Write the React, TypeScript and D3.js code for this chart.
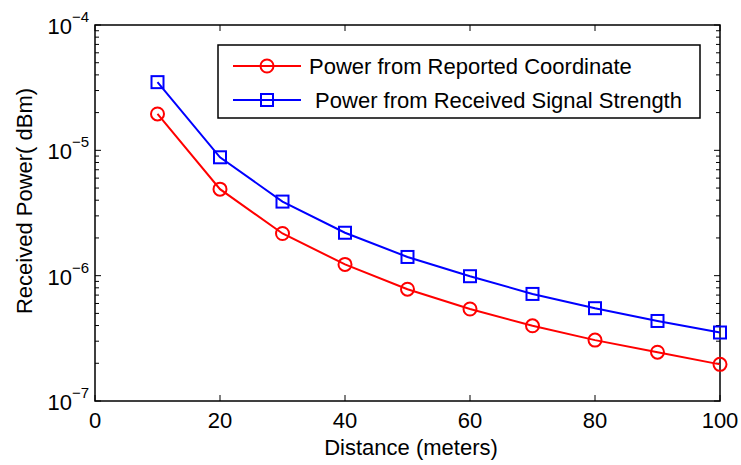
import React from "react";
import * as d3 from "d3";

const distances = [10, 20, 30, 40, 50, 60, 70, 80, 90, 100];
const reportedPower = [1.95e-5, 4.9e-6, 2.17e-6, 1.23e-6, 7.8e-7, 5.42e-7, 3.98e-7, 3.06e-7, 2.45e-7, 1.96e-7];
const rssPower = [3.5e-5, 8.8e-6, 3.9e-6, 2.2e-6, 1.41e-6, 9.9e-7, 7.15e-7, 5.5e-7, 4.35e-7, 3.52e-7];
const xTicks = [0, 20, 40, 60, 80, 100];
const yExponents = [-4, -5, -6, -7];
const seriesNames = ["Power from Reported Coordinate", " Power from Received Signal Strength"];

const W = 741, H = 465;
const m = { left: 95, right: 21, top: 25, bottom: 64 };
const font = "'Liberation Sans', Arial, Helvetica, sans-serif";

export default function App() {
  const x = d3.scaleLinear().domain([0, 100]).range([m.left, W - m.right]);
  const y = d3.scaleLog().domain([1e-7, 1e-4]).range([H - m.bottom, m.top]);
  const line = d3.line<[number, number]>().x(d => x(d[0])).y(d => y(d[1]));
  const red = distances.map((d, i) => [d, reportedPower[i]] as [number, number]);
  const blue = distances.map((d, i) => [d, rssPower[i]] as [number, number]);
  const x0 = m.left, x1 = W - m.right, y0 = H - m.bottom, y1 = m.top;
  const minor: number[] = [];
  for (let e = -7; e < -4; e++) for (let k = 2; k <= 9; k++) minor.push(k * Math.pow(10, e));
  const maj = 6, mn = 4;
  return (
    <svg width={W} height={H} style={{ position: "absolute", left: 0, top: 0, background: "#fff" }} fontFamily={font}>
      <rect x={0} y={0} width={W} height={H} fill="#fff" />
      {/* ticks */}
      {xTicks.map(t => (
        <g key={"x" + t} stroke="#000" strokeWidth={1}>
          <line x1={x(t)} x2={x(t)} y1={y0} y2={y0 - maj} />
          <line x1={x(t)} x2={x(t)} y1={y1} y2={y1 + maj} />
        </g>
      ))}
      {yExponents.map(e => (
        <g key={"y" + e} stroke="#000" strokeWidth={1}>
          <line x1={x0} x2={x0 + maj} y1={y(Math.pow(10, e))} y2={y(Math.pow(10, e))} />
          <line x1={x1} x2={x1 - maj} y1={y(Math.pow(10, e))} y2={y(Math.pow(10, e))} />
        </g>
      ))}
      {minor.map((v, i) => (
        <g key={"m" + i} stroke="#000" strokeWidth={1}>
          <line x1={x0} x2={x0 + mn} y1={y(v)} y2={y(v)} />
          <line x1={x1} x2={x1 - mn} y1={y(v)} y2={y(v)} />
        </g>
      ))}
      {/* frame */}
      <rect x={x0} y={y1} width={x1 - x0} height={y0 - y1} fill="none" stroke="#000" strokeWidth={1.5} />
      {/* tick labels */}
      {xTicks.map(t => (
        <text key={"xl" + t} x={x(t)} y={y0 + 27} textAnchor="middle" fontSize={22} fill="#000">{t}</text>
      ))}
      {yExponents.map(e => (
        <text key={"yl" + e} x={89} y={y(Math.pow(10, e)) + 9} textAnchor="end" fontSize={22} fill="#000">
          10<tspan dy={-12} fontSize={15}>{"\u2212" + Math.abs(e)}</tspan>
        </text>
      ))}
      {/* axis labels */}
      <text x={411} y={455} textAnchor="middle" fontSize={22} fill="#000">Distance (meters)</text>
      <text transform={`translate(32,201) rotate(-90)`} textAnchor="middle" fontSize={22} fill="#000">Received Power( dBm)</text>
      {/* series */}
      <path d={line(red) || ""} fill="none" stroke="#ff0000" strokeWidth={2} />
      <path d={line(blue) || ""} fill="none" stroke="#0000ff" strokeWidth={2} />
      {red.map((d, i) => (
        <circle key={"r" + i} cx={x(d[0])} cy={y(d[1])} r={6.5} fill="none" stroke="#ff0000" strokeWidth={2} />
      ))}
      {blue.map((d, i) => (
        <rect key={"b" + i} x={x(d[0]) - 6} y={y(d[1]) - 6} width={12} height={12} fill="none" stroke="#0000ff" strokeWidth={2} />
      ))}
      {/* legend */}
      <rect x={218} y={45} width={482} height={73} fill="#fff" stroke="#000" strokeWidth={1.5} />
      <line x1={233} x2={301} y1={66} y2={66} stroke="#ff0000" strokeWidth={2} />
      <circle cx={267} cy={66} r={6.5} fill="none" stroke="#ff0000" strokeWidth={2} />
      <text x={309} y={74} fontSize={22} fill="#000">{seriesNames[0]}</text>
      <line x1={233} x2={301} y1={100} y2={100} stroke="#0000ff" strokeWidth={2} />
      <rect x={261} y={94} width={12} height={12} fill="none" stroke="#0000ff" strokeWidth={2} />
      <text x={309} y={108} fontSize={22} fill="#000" style={{ whiteSpace: "pre" }}>{seriesNames[1]}</text>
    </svg>
  );
}
